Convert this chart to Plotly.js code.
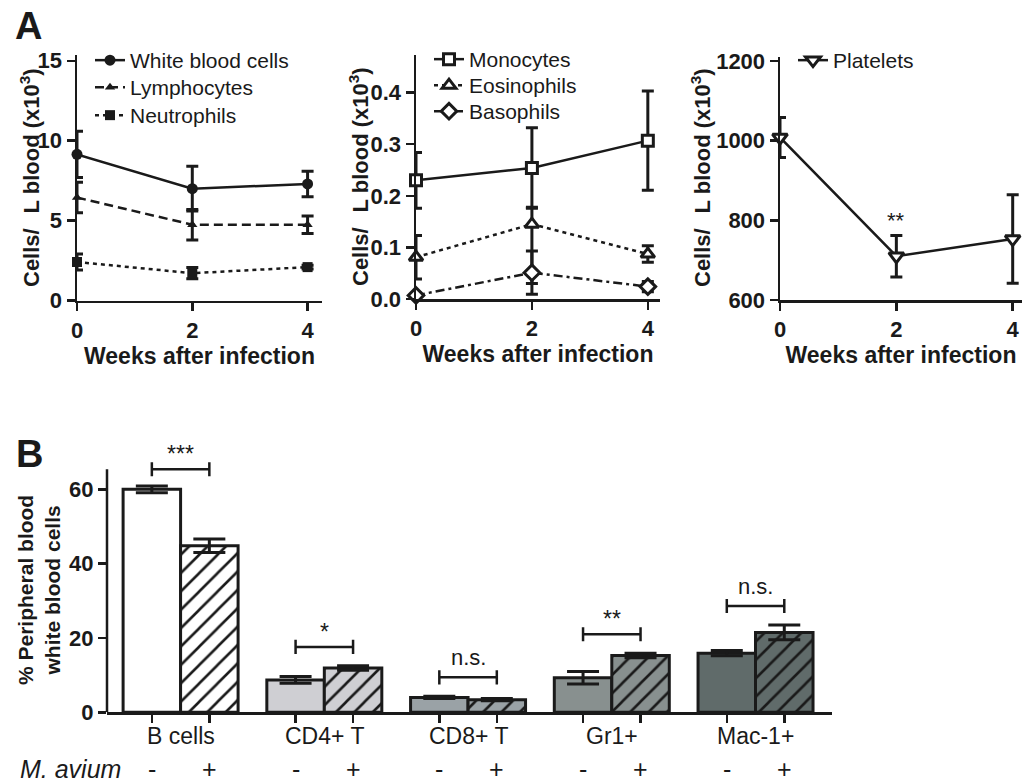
<!DOCTYPE html>
<html>
<head>
<meta charset="utf-8">
<script src="https://cdn.plot.ly/plotly-3.0.1.min.js"></script>
<style>html,body{margin:0;padding:0;background:#fff;}#chart{width:1023px;height:784px;}</style>
</head>
<body>
<div id="chart"></div>
<script>
// ---------- Data: Panel A ----------
const weeks = [0, 2, 4];
const weekTicks = [0, 2, 4];

const wbc = [9.15, 7.0, 7.3];
const wbcErr = [1.45, 1.4, 0.8];
const lymph = [6.45, 4.75, 4.75];
const lymphErr = [0.95, 0.95, 0.55];
const neut = [2.42, 1.72, 2.1];
const neutErr = [0.5, 0.35, 0.12];

const mono = [0.23, 0.254, 0.307];
const monoErr = [0.054, 0.078, 0.096];
const eos = [0.081, 0.145, 0.087];
const eosErrPlus = [0.042, 0.033, 0.016];
const eosErrMinus = [0.042, 0.115, 0.016];
const baso = [0.007, 0.051, 0.024];
const basoErr = [0.004, 0.042, 0.01];

const platelets = [1008, 710, 753];
const plateletsErr = [50, 52, 111];
const plateletSig = ['', '**', ''];

// ---------- Data: Panel B ----------
const cellTypes = ['B cells', 'CD4+ T', 'CD8+ T', 'Gr1+', 'Mac-1+'];
const uninfected = [60.0, 8.7, 4.0, 9.3, 15.9];
const uninfectedErr = [0.9, 0.9, 0.3, 1.7, 0.7];
const infected = [44.8, 11.9, 3.4, 15.3, 21.5];
const infectedErr = [1.8, 0.6, 0.3, 0.6, 2.0];
const significance = ['***', '*', 'n.s.', '**', 'n.s.'];
const barColors = ['#ffffff', '#cfcfd3', '#9aa2a6', '#88908f', '#606b6a'];
const aviumLabels = ['-', '+'];

// ---------- Styling ----------
const FONT = 'Liberation Sans, Arial, sans-serif';
const INK = '#1a1a1a';
const W = 1023, H = 784;
const px = v => v / W;
const py = v => 1 - v / H;
const LEGFONT = 21;

function errY(arr, minus) {
  const e = {type: 'data', array: arr, visible: true, color: INK, thickness: 3, width: 6};
  if (minus) { e.symmetric = false; e.arrayminus = minus; }
  return e;
}
function lineTrace(name, y, err, errMinus, xa, ya, leg, dash, symbol, size, fill) {
  return {
    type: 'scatter', mode: 'lines+markers', name: name, x: weeks, y: y,
    xaxis: xa, yaxis: ya, legend: leg, cliponaxis: false,
    line: {color: INK, width: 2.5, dash: dash},
    marker: {symbol: symbol, size: size, color: fill, line: {color: INK, width: fill === INK ? 0 : 3}},
    error_y: errY(err, errMinus)
  };
}

const traces = [
  lineTrace('White blood cells', wbc, wbcErr, null, 'x', 'y', 'legend', 'solid', 'circle', 11, INK),
  lineTrace('Lymphocytes', lymph, lymphErr, null, 'x', 'y', 'legend2', '9px,5px', 'triangle-up', 9, INK),
  lineTrace('Neutrophils', neut, neutErr, null, 'x', 'y', 'legend3', '4px,4px', 'square', 10, INK),
  lineTrace('Monocytes', mono, monoErr, null, 'x2', 'y2', 'legend4', 'solid', 'square', 11, '#ffffff'),
  lineTrace('Eosinophils', eos, eosErrPlus, eosErrMinus, 'x2', 'y2', 'legend5', '4px,4px', 'triangle-up', 12, '#ffffff'),
  lineTrace('Basophils', baso, basoErr, null, 'x2', 'y2', 'legend6', '9px,4px,3px,4px', 'diamond', 12, '#ffffff'),
  lineTrace('Platelets', platelets, plateletsErr, null, 'x3', 'y3', 'legend7', 'solid', 'triangle-down', 13, '#ffffff')
];

// Panel B bars
const groupGap = 2.5;
const xMinus = cellTypes.map((c, i) => i * groupGap);
const xPlus = cellTypes.map((c, i) => i * groupGap + 1);
cellTypes.forEach((c, i) => {
  traces.push({
    type: 'bar', name: c + ' -', x: [xMinus[i]], y: [uninfected[i]], width: 1, xaxis: 'x4', yaxis: 'y4', showlegend: false,
    marker: {color: barColors[i], line: {color: INK, width: 3}},
    error_y: {type: 'data', array: [uninfectedErr[i]], visible: true, color: INK, thickness: 3, width: 16}
  });
  traces.push({
    type: 'bar', name: c + ' +', x: [xPlus[i]], y: [infected[i]], width: 1, xaxis: 'x4', yaxis: 'y4', showlegend: false,
    marker: {color: barColors[i], line: {color: INK, width: 3},
             pattern: {shape: '/', fgcolor: INK, bgcolor: barColors[i], fgopacity: 1, size: 13, solidity: 0.2, fillmode: 'replace'}},
    error_y: {type: 'data', array: [infectedErr[i]], visible: true, color: INK, thickness: 3, width: 16}
  });
});

const tickFont = {family: FONT, size: 22, color: INK, weight: 'bold'};
const titleFont = {family: FONT, size: 23, color: INK, weight: 'bold'};
const yTitleText = '<b>Cells/\u2009\u2009 L blood (x10<sup>3</sup>)</b>';

function xA(domain, range) {
  return {
    domain: domain, range: range, tickvals: weekTicks, ticks: 'outside', ticklen: 8, tickwidth: 2.5,
    tickcolor: INK, showline: true, linewidth: 2.5, linecolor: INK, showgrid: false, zeroline: false,
    tickfont: tickFont, title: {text: 'Weeks after infection', font: titleFont, standoff: 4}, fixedrange: true
  };
}
function yA(domain, range, tickvals, fmt, anchor) {
  return {
    domain: domain, range: range, tickvals: tickvals, tickformat: fmt, ticks: 'outside', ticklen: 8, tickwidth: 2.5,
    tickcolor: INK, showline: true, linewidth: 2.5, linecolor: INK, showgrid: false, zeroline: false,
    tickfont: tickFont, anchor: anchor, fixedrange: true
  };
}
function leg(textX, rowY) {
  return {x: px(textX - 40), y: py(rowY - 21), xanchor: 'left', yanchor: 'top', bgcolor: 'rgba(0,0,0,0)',
          font: {family: FONT, size: LEGFONT, color: INK}};
}

const layout = {
  width: W, height: H, margin: {l: 0, r: 0, t: 0, b: 0}, paper_bgcolor: '#fff', plot_bgcolor: 'rgba(0,0,0,0)',
  font: {family: FONT, color: INK},
  xaxis: Object.assign(xA([px(77), px(322)], [0, 4.25]), {anchor: 'y'}),
  yaxis: yA([py(300.7), py(55)], [0, 15.36], [0, 5, 10, 15], '', 'x'),
  xaxis2: Object.assign(xA([px(416), px(660)], [0, 4.21]), {anchor: 'y2'}),
  yaxis2: yA([py(299), py(55)], [0, 0.473], [0, 0.1, 0.2, 0.3, 0.4], '.1f', 'x2'),
  xaxis3: Object.assign(xA([px(780), px(1022)], [0, 4.16]), {anchor: 'y3'}),
  yaxis3: yA([py(300), py(57)], [600, 1210], [600, 800, 1000, 1200], '', 'x3'),
  xaxis4: {
    domain: [px(107), px(832)], range: [-0.78, 11.83], anchor: 'y4',
    tickvals: xMinus.concat(xPlus), showticklabels: false,
    ticks: 'outside', ticklen: 8, tickwidth: 2.5, tickcolor: INK, showline: true, linewidth: 2.5, linecolor: INK,
    showgrid: false, zeroline: false, fixedrange: true
  },
  yaxis4: {
    domain: [py(712.3), py(444.7)], range: [0, 72], anchor: 'x4', tickvals: [0, 20, 40, 60],
    ticks: 'outside', ticklen: 8, tickwidth: 2.5, tickcolor: INK, showline: false, showgrid: false, zeroline: false,
    tickfont: tickFont, fixedrange: true
  },
  barmode: 'overlay',
  legend: leg(130, 61), legend2: leg(130, 88), legend3: leg(130, 116),
  legend4: leg(469, 60), legend5: leg(469, 86), legend6: leg(469, 112),
  legend7: leg(833, 61),
  shapes: [],
  annotations: []
};

// Panel A y titles (rotated)
[[30, 178], [359, 177], [701, 178]].forEach(p => {
  layout.annotations.push({text: yTitleText, xref: 'paper', yref: 'paper', x: px(p[0]), y: py(p[1]),
    xanchor: 'center', yanchor: 'middle', textangle: -90, showarrow: false, font: {family: FONT, size: 22, color: INK}});
});

// Panel labels
layout.annotations.push({text: '<b>A</b>', xref: 'paper', yref: 'paper', x: px(13), y: py(3), xanchor: 'left', yanchor: 'top',
  showarrow: false, font: {family: FONT, size: 38, color: INK}});
layout.annotations.push({text: '<b>B</b>', xref: 'paper', yref: 'paper', x: px(14), y: py(431), xanchor: 'left', yanchor: 'top',
  showarrow: false, font: {family: FONT, size: 38, color: INK}});

// Platelet significance
platelets.forEach((v, i) => {
  if (plateletSig[i]) layout.annotations.push({text: plateletSig[i], x: weeks[i], y: v + plateletsErr[i], xref: 'x3', yref: 'y3',
    yanchor: 'bottom', yshift: 0, showarrow: false, font: {family: FONT, size: 22, color: INK}});
});

// Panel B y axis line (stops below brackets)
const yTop = 65.4;
layout.shapes.push({type: 'line', xref: 'x4 domain', yref: 'y4', x0: 0, x1: 0, y0: 0, y1: yTop, line: {color: INK, width: 2.5}});

// Panel B y title
layout.annotations.push({text: '<b>% Peripheral blood<br>white blood cells</b>', xref: 'paper', yref: 'paper',
  x: px(39), y: py(590), xanchor: 'center', yanchor: 'middle', textangle: -90, showarrow: false,
  font: {family: FONT, size: 21, color: INK}});

// Brackets, significance, category labels, -/+ labels
cellTypes.forEach((c, i) => {
  const top = Math.max(uninfected[i] + uninfectedErr[i], infected[i] + infectedErr[i]);
  const lvl = Math.min(top + 5.1, yTop);
  const a = xMinus[i], b = xPlus[i], d = 1.9;
  layout.shapes.push({type: 'line', xref: 'x4', yref: 'y4', x0: a, x1: b, y0: lvl, y1: lvl, line: {color: INK, width: 2.5}});
  layout.shapes.push({type: 'line', xref: 'x4', yref: 'y4', x0: a, x1: a, y0: lvl - d, y1: lvl + d, line: {color: INK, width: 2.5}});
  layout.shapes.push({type: 'line', xref: 'x4', yref: 'y4', x0: b, x1: b, y0: lvl - d, y1: lvl + d, line: {color: INK, width: 2.5}});
  const isStar = significance[i].indexOf('*') >= 0;
  layout.annotations.push({text: significance[i], xref: 'x4', yref: 'y4', x: (a + b) / 2, y: lvl, yanchor: 'bottom',
    yshift: isStar ? 0 : 5, showarrow: false, font: {family: FONT, size: isStar ? 23 : 22, color: INK}});
  layout.annotations.push({text: c, xref: 'x4', yref: 'y4', x: (a + b) / 2, y: 0, yanchor: 'middle', yshift: -24,
    showarrow: false, font: {family: FONT, size: 23, color: INK}});
  [a, b].forEach((xv, k) => {
    layout.annotations.push({text: aviumLabels[k], xref: 'x4', yref: 'y4', x: xv, y: 0, yanchor: 'middle', yshift: -57,
      showarrow: false, font: {family: FONT, size: 25, color: INK}});
  });
});
layout.annotations.push({text: '<i>M. avium</i>', xref: 'paper', yref: 'paper', x: px(18), y: py(769), xanchor: 'left',
  yanchor: 'middle', showarrow: false, font: {family: FONT, size: 25, color: INK}});

Plotly.newPlot('chart', traces, layout, {staticPlot: true, displayModeBar: false});
</script>
</body>
</html>
